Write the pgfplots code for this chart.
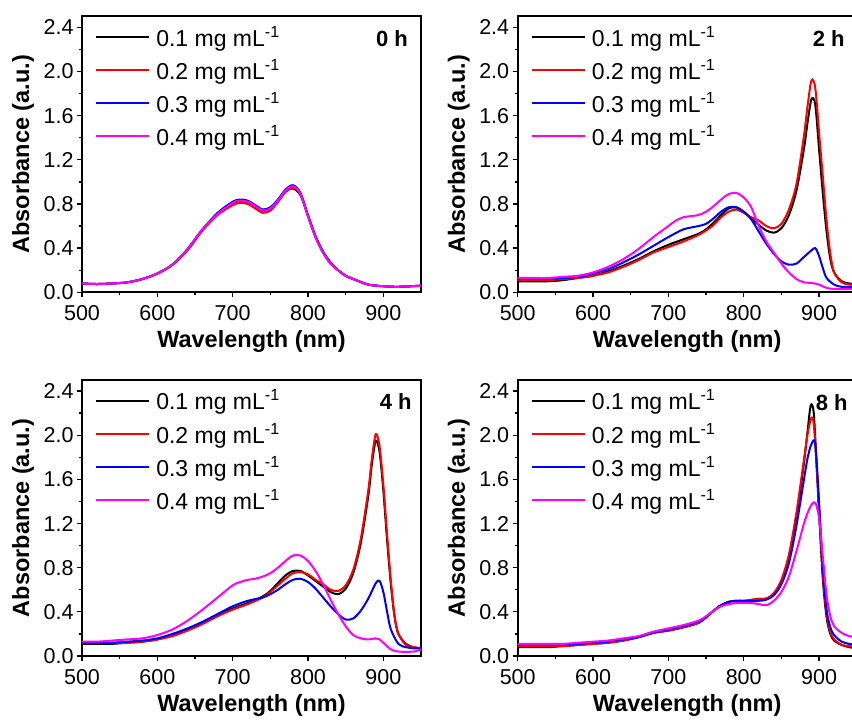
\documentclass[border=0pt]{standalone}
\usepackage{fontspec}
\setmainfont{Liberation Sans}
\usepackage{pgfplots}
\pgfplotsset{compat=1.18}

\definecolor{cred}{RGB}{255,0,0}
\definecolor{cblue}{RGB}{0,0,255}
\definecolor{cmag}{RGB}{255,0,255}

\newcommand{\mgml}{mg mL\textsuperscript{-1}}

\tikzset{plabel/.style={anchor=north east, inner sep=0pt, font=\bfseries\fontsize{22}{24}\selectfont}}

\pgfplotsset{
  panel/.style={
    scale only axis, width=339pt, height=276pt,
    xmin=500, xmax=950, ymin=0, ymax=2.5,
    xtick={500,600,700,800,900}, ytick={0,0.4,0.8,1.2,1.6,2,2.4},
    minor x tick num=1, minor y tick num=1,
    tick align=outside, xtick pos=bottom, ytick pos=left,
    major tick length=5pt, minor tick length=3pt,
    every tick/.style={line width=1.3pt, black},
    axis line style={line width=1.6pt},
    tick label style={font=\fontsize{21.5}{24}\selectfont},
    /pgf/number format/assume math mode=true,
    yticklabel style={/pgf/number format/fixed, /pgf/number format/precision=1, /pgf/number format/fixed zerofill},
    xticklabel style={yshift=-5pt},
    xlabel={Wavelength (nm)}, ylabel={Absorbance (a.u.)},
    every axis x label/.style={at={(axis description cs:0.5,-0.18)}, anchor=center,
      font=\bfseries\fontsize{23.5}{26}\selectfont},
    every axis y label/.style={at={(axis description cs:-0.174,0.5)}, anchor=center, rotate=90,
      font=\bfseries\fontsize{23.5}{26}\selectfont},
    legend style={draw=none, fill=none, at={(axis description cs:0.038,0.965)}, anchor=north west,
      font=\fontsize{23}{25}\selectfont, inner sep=0pt, row sep=11.5pt, nodes={inner ysep=0pt},
      /tikz/every odd column/.append style={column sep=4pt}},
    legend cell align=left,
    legend image code/.code={\draw[##1, line width=2.2pt] (0pt,0pt) -- (53pt,0pt);},
    every axis plot/.append style={line width=2pt, smooth},
  },
}

\begin{document}
\begin{tikzpicture}

% 0 h
\begin{axis}[panel, at={(82pt,428.7pt)}, anchor=south west]
\addplot[black] coordinates {(500,0.08) (520,0.075) (540,0.08) (560,0.09) (580,0.12) (600,0.17) (620,0.25) (640,0.39) (660,0.57) (680,0.71) (700,0.80) (710,0.82) (720,0.81) (730,0.77) (740,0.73) (750,0.75) (760,0.82) (770,0.91) (780,0.94) (790,0.88) (800,0.69) (810,0.50) (820,0.36) (830,0.26) (840,0.20) (850,0.15) (860,0.12) (880,0.07) (900,0.055) (920,0.05) (950,0.06)};
\addplot[cred] coordinates {(500,0.08) (520,0.075) (540,0.08) (560,0.09) (580,0.12) (600,0.17) (620,0.25) (640,0.38) (660,0.56) (680,0.70) (700,0.79) (710,0.81) (720,0.80) (730,0.76) (740,0.72) (750,0.74) (760,0.82) (770,0.91) (780,0.95) (790,0.89) (800,0.69) (810,0.50) (820,0.36) (830,0.26) (840,0.20) (850,0.15) (860,0.12) (880,0.07) (900,0.055) (920,0.05) (950,0.06)};
\addplot[cblue] coordinates {(500,0.08) (520,0.075) (540,0.08) (560,0.09) (580,0.12) (600,0.17) (620,0.25) (640,0.39) (660,0.57) (680,0.72) (700,0.82) (710,0.84) (720,0.83) (730,0.79) (740,0.75) (750,0.77) (760,0.84) (770,0.93) (780,0.97) (790,0.90) (800,0.70) (810,0.51) (820,0.37) (830,0.27) (840,0.20) (850,0.15) (860,0.12) (880,0.07) (900,0.055) (920,0.05) (950,0.06)};
\addplot[cmag] coordinates {(500,0.08) (520,0.075) (540,0.08) (560,0.09) (580,0.12) (600,0.17) (620,0.25) (640,0.39) (660,0.57) (680,0.71) (700,0.81) (710,0.83) (720,0.82) (730,0.78) (740,0.74) (750,0.76) (760,0.83) (770,0.92) (780,0.96) (790,0.89) (800,0.69) (810,0.50) (820,0.36) (830,0.26) (840,0.20) (850,0.15) (860,0.12) (880,0.07) (900,0.055) (920,0.05) (950,0.06)};
\legend{0.1 \mgml, 0.2 \mgml, 0.3 \mgml, 0.4 \mgml}
\node[plabel] at (rel axis cs:0.962,0.95) {0 h};
\end{axis}

% 2 h
\begin{axis}[panel, at={(517.7pt,428.7pt)}, anchor=south west]
\addplot[black] coordinates {(500,0.10) (520,0.10) (540,0.10) (560,0.11) (580,0.13) (600,0.15) (620,0.19) (640,0.24) (660,0.30) (680,0.37) (700,0.43) (720,0.48) (740,0.53) (750,0.57) (760,0.63) (770,0.70) (780,0.76) (790,0.77) (800,0.73) (810,0.67) (820,0.61) (830,0.56) (840,0.54) (850,0.58) (860,0.70) (870,0.92) (880,1.30) (885,1.55) (890,1.75) (895,1.70) (900,1.30) (905,0.90) (910,0.55) (915,0.30) (920,0.18) (930,0.10) (940,0.08) (950,0.07)};
\addplot[cred] coordinates {(500,0.11) (520,0.11) (540,0.11) (560,0.12) (580,0.13) (600,0.15) (620,0.18) (640,0.23) (660,0.29) (680,0.36) (700,0.41) (720,0.46) (740,0.52) (750,0.56) (760,0.61) (770,0.68) (780,0.73) (790,0.75) (800,0.72) (810,0.68) (820,0.65) (830,0.60) (840,0.58) (850,0.62) (860,0.75) (870,0.98) (880,1.42) (885,1.70) (890,1.92) (895,1.85) (900,1.45) (905,1.05) (910,0.65) (915,0.35) (920,0.18) (930,0.09) (940,0.07) (950,0.07)};
\addplot[cblue] coordinates {(500,0.12) (520,0.12) (540,0.12) (560,0.13) (580,0.14) (600,0.17) (620,0.21) (640,0.27) (660,0.34) (680,0.42) (700,0.50) (720,0.57) (740,0.60) (750,0.62) (760,0.67) (770,0.73) (780,0.77) (790,0.77) (800,0.73) (810,0.66) (820,0.55) (830,0.44) (840,0.35) (850,0.28) (860,0.25) (870,0.26) (880,0.32) (890,0.38) (895,0.40) (900,0.33) (905,0.22) (910,0.13) (920,0.07) (930,0.05) (950,0.05)};
\addplot[cmag] coordinates {(500,0.13) (520,0.13) (540,0.13) (560,0.14) (580,0.15) (600,0.18) (620,0.23) (640,0.30) (660,0.39) (680,0.50) (700,0.60) (710,0.65) (720,0.68) (730,0.69) (740,0.70) (750,0.73) (760,0.78) (770,0.84) (780,0.89) (790,0.90) (800,0.86) (810,0.77) (820,0.60) (830,0.46) (840,0.36) (850,0.26) (860,0.18) (870,0.12) (880,0.09) (890,0.085) (900,0.07) (910,0.04) (920,0.03) (940,0.03) (950,0.04)};
\legend{0.1 \mgml, 0.2 \mgml, 0.3 \mgml, 0.4 \mgml}
\node[plabel] at (rel axis cs:0.965,0.95) {2 h};
\end{axis}

% 4 h
\begin{axis}[panel, at={(82pt,65pt)}, anchor=south west]
\addplot[black] coordinates {(500,0.11) (520,0.11) (540,0.11) (560,0.12) (580,0.13) (600,0.15) (620,0.19) (640,0.24) (660,0.30) (680,0.37) (700,0.43) (720,0.48) (740,0.54) (750,0.59) (760,0.66) (770,0.73) (780,0.77) (790,0.77) (800,0.73) (810,0.68) (820,0.63) (830,0.58) (840,0.56) (850,0.61) (860,0.75) (870,1.02) (880,1.45) (885,1.75) (890,1.95) (895,1.85) (900,1.50) (905,1.05) (910,0.65) (915,0.35) (920,0.20) (930,0.11) (940,0.08) (950,0.07)};
\addplot[cred] coordinates {(500,0.12) (520,0.12) (540,0.12) (560,0.12) (580,0.13) (600,0.15) (620,0.18) (640,0.23) (660,0.29) (680,0.36) (700,0.42) (720,0.47) (740,0.53) (750,0.58) (760,0.64) (770,0.70) (780,0.75) (790,0.76) (800,0.74) (810,0.69) (820,0.65) (830,0.60) (840,0.59) (850,0.64) (860,0.78) (870,1.06) (880,1.50) (885,1.80) (890,2.01) (895,1.90) (900,1.55) (905,1.10) (910,0.68) (915,0.36) (920,0.20) (930,0.10) (940,0.08) (950,0.07)};
\addplot[cblue] coordinates {(500,0.12) (520,0.12) (540,0.12) (560,0.13) (580,0.14) (600,0.16) (620,0.20) (640,0.25) (660,0.31) (680,0.38) (700,0.45) (720,0.50) (740,0.53) (750,0.56) (760,0.60) (770,0.65) (780,0.69) (790,0.70) (800,0.67) (810,0.61) (820,0.53) (830,0.45) (840,0.38) (850,0.33) (860,0.34) (870,0.41) (880,0.52) (890,0.66) (895,0.68) (900,0.58) (905,0.40) (910,0.24) (920,0.11) (930,0.08) (940,0.07) (950,0.07)};
\addplot[cmag] coordinates {(500,0.13) (520,0.13) (540,0.14) (560,0.15) (580,0.16) (600,0.19) (620,0.24) (640,0.32) (660,0.42) (680,0.53) (700,0.64) (710,0.67) (720,0.69) (730,0.70) (740,0.72) (750,0.75) (760,0.80) (770,0.86) (780,0.91) (790,0.91) (800,0.86) (810,0.77) (820,0.65) (830,0.51) (840,0.38) (850,0.27) (860,0.19) (870,0.16) (880,0.15) (890,0.16) (895,0.15) (900,0.12) (910,0.06) (920,0.04) (940,0.04) (950,0.06)};
\legend{0.1 \mgml, 0.2 \mgml, 0.3 \mgml, 0.4 \mgml}
\node[plabel] at (rel axis cs:0.973,0.953) {4 h};
\end{axis}

% 8 h
\begin{axis}[panel, at={(517.7pt,65pt)}, anchor=south west]
\addplot[black] coordinates {(500,0.08) (520,0.08) (540,0.08) (560,0.09) (580,0.10) (600,0.11) (620,0.12) (640,0.14) (660,0.17) (680,0.21) (700,0.23) (720,0.26) (740,0.30) (750,0.35) (760,0.41) (770,0.46) (780,0.49) (790,0.50) (800,0.50) (810,0.50) (820,0.51) (830,0.52) (840,0.56) (850,0.67) (860,0.88) (870,1.25) (880,1.75) (885,2.05) (889,2.27) (893,2.20) (897,1.70) (900,1.30) (905,0.70) (910,0.35) (915,0.20) (920,0.14) (930,0.10) (940,0.08) (950,0.07)};
\addplot[cred] coordinates {(500,0.09) (520,0.09) (540,0.09) (560,0.09) (580,0.10) (600,0.11) (620,0.12) (640,0.14) (660,0.17) (680,0.21) (700,0.23) (720,0.26) (740,0.30) (750,0.35) (760,0.41) (770,0.46) (780,0.49) (790,0.50) (800,0.50) (810,0.51) (820,0.52) (830,0.52) (840,0.57) (850,0.69) (860,0.92) (870,1.30) (880,1.78) (885,2.02) (890,2.16) (893,2.10) (897,1.70) (900,1.35) (905,0.75) (910,0.38) (915,0.22) (920,0.15) (930,0.10) (940,0.09) (950,0.08)};
\addplot[cblue] coordinates {(500,0.10) (520,0.10) (540,0.10) (560,0.10) (580,0.11) (600,0.12) (620,0.13) (640,0.15) (660,0.17) (680,0.21) (700,0.24) (720,0.27) (740,0.31) (750,0.35) (760,0.41) (770,0.46) (780,0.49) (790,0.50) (800,0.50) (810,0.50) (820,0.50) (830,0.51) (840,0.55) (850,0.65) (860,0.84) (870,1.18) (880,1.60) (885,1.80) (890,1.92) (895,1.92) (900,1.40) (905,0.80) (910,0.42) (915,0.26) (920,0.19) (930,0.13) (940,0.11) (950,0.10)};
\addplot[cmag] coordinates {(500,0.11) (520,0.11) (540,0.11) (560,0.11) (580,0.12) (600,0.13) (620,0.14) (640,0.16) (660,0.18) (680,0.22) (700,0.25) (720,0.28) (740,0.32) (750,0.36) (760,0.41) (770,0.45) (780,0.47) (790,0.48) (800,0.48) (810,0.48) (820,0.47) (830,0.46) (840,0.50) (850,0.58) (860,0.72) (870,0.95) (880,1.20) (885,1.30) (890,1.37) (895,1.39) (900,1.25) (905,0.90) (910,0.55) (915,0.36) (920,0.27) (930,0.21) (940,0.18) (950,0.17)};
\legend{0.1 \mgml, 0.2 \mgml, 0.3 \mgml, 0.4 \mgml}
\node[plabel] at (rel axis cs:0.974,0.949) {8 h};
\end{axis}

\pgfresetboundingbox
\useasboundingbox (0pt,0pt) rectangle (852pt,721pt);
\end{tikzpicture}
\end{document}
